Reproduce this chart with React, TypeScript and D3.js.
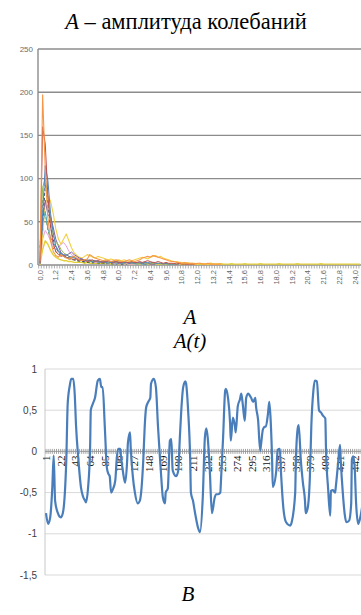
import * as d3 from 'd3';
import { useEffect, useRef } from 'react';

const W = 361;
const H = 615;

// ---- top chart: amplitude curves, category axis 0,0 … 24,4 (step 0,2)
const ampCats = d3.range(123).map((i) => +(i * 0.2).toFixed(1));
const ampXLabels = ['0,0', '1,2', '2,4', '3,6', '4,8', '6,0', '7,2', '8,4', '9,6', '10,8', '12,0', '13,2', '14,4', '15,6', '16,8', '18,0', '19,2', '20,4', '21,6', '22,8', '24,0'];
const ampYTicks = [0, 50, 100, 150, 200, 250];

const ampOlive = [
  1, 18, 28, 24, 17, 12, 9, 7, 6, 5,
  5, 4, 4, 3, 3, 3, 3, 2, 3, 2,
  2, 2, 2, 2, 2, 2, 2, 1.5, 2, 2,
  1.5, 2, 1.5, 2, 1.5, 1.5, 2, 1.5, 1.5, 2,
  1.5, 1.5, 1, 2, 1.5, 1, 1.5, 1, 2, 1.5,
  1, 1.5, 1, 1, 1.5, 1, 2, 1, 1, 1.5,
  1, 1, 1.5, 1, 1, 2, 1, 1, 1, 1.5,
  1, 1, 1, 1.5, 1, 1, 1, 1, 1.5, 1,
  1, 1, 1, 1, 1.5, 1, 1, 1, 1, 1,
  1, 1.5, 1, 1, 1, 1, 1, 1, 1.5, 1,
  1, 1, 1, 1, 1, 1, 1, 1.5, 1, 1,
  1, 1, 1, 1, 1, 1, 1, 1, 1, 1,
  1, 1, 1
];
const ampGreenDash = [20, 75, 60, 40, 30, 20, 15, 13, 11, 10, 8, 7, 6, 6, 5, 4, 4, 3, 3, 3, 2, 3, 2, 2, 2, 1, 2, 1, 1];
const ampNavyDash = [5, 40, 95, 70, 45, 30, 20, 15, 12, 10, 9, 8, 7, 6, 5, 5, 4, 4, 3, 4, 3, 3, 3, 2, 3, 2, 2, 2, 2, 1, 2, 1, 1, 1];
const ampPink = [2, 30, 40, 35, 28, 22, 18, 20, 24, 26, 22, 16, 12, 10, 8, 7, 6, 5, 5, 4, 4, 3, 3, 4, 3, 3, 2, 3, 2, 2, 2, 2, 1, 2, 1, 1, 1];
const ampYellow = [
  0, 35, 72, 80, 74, 60, 42, 30, 24, 30, 36, 28, 20, 14, 11, 9, 8, 10, 12, 11,
  9, 8, 10, 9, 8, 7, 6, 7, 6, 5, 6, 5, 6, 5, 4, 5, 6, 7, 8, 9,
  8, 7, 9, 10, 11, 9, 10, 8, 7, 6, 5, 4, 4, 3, 3, 2, 3, 2, 2, 2,
  1, 2, 1, 1, 1, 1, 1, 1, 1, 1
];
const ampAqua = [9, 48, 62, 42, 32, 26, 22, 17, 14, 11, 9, 8, 10, 9, 7, 6, 5, 6, 5, 4, 4, 5, 3, 4, 3, 3, 2, 3, 3, 2, 3, 2, 2, 3, 2, 2, 2, 1, 2, 1, 1, 1];
const ampPurple = [3, 55, 75, 58, 56, 44, 30, 22, 14, 12, 11, 13, 15, 12, 10, 8, 7, 6, 5, 6, 5, 4, 5, 4, 3, 4, 3, 3, 4, 3, 2, 3, 2, 3, 2, 2, 3, 2, 2, 2, 1, 2, 1, 1, 1];
const ampGreen = [12, 90, 100, 78, 52, 34, 26, 24, 18, 14, 12, 10, 8, 9, 7, 6, 5, 6, 5, 4, 5, 4, 4, 3, 4, 5, 3, 4, 3, 3, 4, 3, 2, 3, 3, 2, 3, 2, 2, 3, 2, 2, 3, 2, 2, 2, 1, 2, 1, 1, 1, 1];
const ampBlue = [1, 60, 115, 98, 60, 38, 22, 15, 13, 11, 12, 10, 9, 8, 7, 6, 7, 5, 6, 5, 4, 5, 4, 3, 4, 3, 4, 3, 3, 4, 3, 2, 3, 3, 2, 3, 2, 3, 3, 2, 3, 3, 2, 3, 2, 2, 2, 1, 2, 1, 1, 1, 1, 1];
const ampRed = [2, 160, 140, 80, 45, 25, 16, 12, 10, 11, 9, 8, 7, 6, 7, 5, 6, 5, 4, 5, 6, 4, 5, 4, 3, 4, 5, 4, 3, 4, 3, 3, 4, 3, 3, 4, 3, 3, 4, 3, 4, 5, 4, 3, 3, 4, 3, 2, 3, 2, 2, 2, 1, 2, 1, 1, 1, 1, 1, 1];
const ampOrange = [
  4, 197, 110, 55, 28, 16, 11, 9, 12, 10, 8, 7, 9, 10, 8, 6, 5, 6, 7, 12,
  10, 8, 7, 6, 5, 6, 5, 4, 5, 6, 5, 4, 4, 5, 6, 5, 4, 5, 6, 8,
  9, 10, 9, 11, 10, 9, 8, 7, 6, 5, 4, 4, 3, 3, 2, 3, 2, 2, 2, 1,
  2, 2, 1, 1, 2, 1, 1, 1, 1, 1
];

// ---- bottom chart: A(t), sampled time index + value
const sigT = [
  1, 4, 7, 10, 12, 14, 18, 22, 25, 30, 32, 35, 37, 40, 42, 44, 47, 51, 54, 57,
  58, 61, 64, 65, 68, 71, 75, 78, 80, 82, 85, 88, 90, 92, 94, 97, 100, 102, 104, 107,
  108, 111, 114, 117, 118, 121, 122, 125, 128, 132, 135, 140, 142, 144, 147, 150, 151, 155, 158, 161,
  164, 165, 168, 171, 172, 175, 178, 180, 182, 187, 190, 192, 194, 197, 200, 201, 204, 207, 208, 211,
  214, 218, 221, 225, 228, 230, 232, 235, 238, 242, 244, 247, 250, 251, 254, 257, 258, 261, 264, 265,
  268, 271, 272, 275, 278, 280, 282, 285, 287, 290, 292, 294, 297, 300, 301, 304, 307, 308, 311, 314,
  315, 318, 320, 322, 324, 325, 330, 332, 335, 337, 340, 344, 350, 352, 357, 358, 361, 362, 365, 368,
  371, 372, 375, 378, 380, 383, 385, 388, 391, 394, 397, 400, 401, 404, 407, 408, 411, 414, 415, 418,
  421, 422, 425, 428, 430, 434, 437, 438, 440, 442, 444, 447, 450, 454, 458, 462, 466, 470
];
const sigV = [
  -0.75, -0.88, -0.8, -0.44, -0.05, -0.6, -0.75, -0.8, -0.75, -0.1, 0.58, 0.8, 0.88, 0.88, 0.7, 0.3, -0.07, -0.44, -0.55, -0.6,
  -0.62, -0.45, 0.05, 0.5, 0.58, 0.65, 0.86, 0.88, 0.78, 0.78, 0.3, -0.2, -0.27, -0.3, -0.5, -0.45, -0.35, -0.1, 0.03, 0.03,
  -0.05, -0.25, -0.38, -0.1, 0.1, 0.23, 0.05, -0.3, -0.5, -0.63, -0.6, -0.1, 0.3, 0.53, 0.6, 0.65, 0.82, 0.88, 0.78, 0.3,
  -0.1, -0.23, -0.56, -0.63, -0.5, -0.45, 0.13, 0.15, -0.23, -0.3, -0.23, 0.13, 0.46, 0.78, 0.85, 0.83, 0.5, -0.1, -0.5, -0.6,
  -0.75, -0.92, -0.98, -0.55, 0.17, 0.28, 0.17, -0.23, -0.75, -0.56, -0.52, -0.52, -0.5, -0.35, 0.17, 0.74, 0.76, 0.65, 0.34, 0.13,
  0.41, 0.3, 0.23, 0.55, 0.63, 0.7, 0.58, 0.37, 0.65, 0.7, 0.68, 0.65, 0.6, 0.65, 0.55, 0.38, 0.01, 0.07, 0.27, 0.3,
  0.3, 0.45, 0.6, 0.37, -0.1, -0.43, -0.23, 0.02, 0.03, -0.3, -0.68, -0.86, -0.9, -0.86, -0.5, -0.1, 0.3, 0.32, -0.1, -0.38,
  -0.6, -0.75, -0.68, -0.3, 0.3, 0.74, 0.86, 0.85, 0.5, 0.47, 0.43, 0.4, 0.03, -0.45, -0.78, -0.48, -0.47, -0.5, -0.43, -0.17,
  0.08, -0.1, -0.5, -0.78, -0.86, -0.84, -0.63, -0.1, -0.06, -0.2, -0.63, -0.88, -0.8, -0.6, -0.4, -0.5, -0.7, -0.8
];
const sigXLabels = ['1', '22', '43', '64', '85', '106', '127', '148', '169', '190', '211', '232', '253', '274', '295', '316', '337', '358', '379', '400', '421', '442'];
const sigYTicks = [1, 0.5, 0, -0.5, -1, -1.5];

const SERIF = '"Liberation Serif", "Times New Roman", serif';
const SANS = '"Liberation Sans", Arial, sans-serif';

export default function App() {
  const ref = useRef<SVGSVGElement | null>(null);

  useEffect(() => {
    const svg = d3.select(ref.current);
    svg.selectAll('*').remove();
    svg.append('rect').attr('width', W).attr('height', H).attr('fill', '#fff');

    // titles
    const t1 = svg.append('text').attr('x', 186).attr('y', 29).attr('text-anchor', 'middle')
      .attr('font-family', SERIF).attr('font-size', 22.5).attr('fill', '#000');
    t1.append('tspan').attr('font-style', 'italic').text('A');
    t1.append('tspan').text(' – амплитуда колебаний');

    // ===== top chart =====
    const band = 2.625;
    const tx = d3.scaleLinear().domain([-0.5, ampCats.length - 0.5]).range([38.7, 38.7 + ampCats.length * band]);
    const ty = d3.scaleLinear().domain([0, 250]).range([265, 49]);
    const top = svg.append('g');

    top.selectAll('line.grid').data(ampYTicks.filter((d) => d > 0)).enter().append('line')
      .attr('x1', 38).attr('x2', W).attr('y1', (d) => ty(d)).attr('y2', (d) => ty(d))
      .attr('stroke', '#8c8c8c').attr('stroke-width', 1.4);
    top.append('line').attr('x1', 38).attr('x2', 38).attr('y1', ty(250)).attr('y2', ty(0))
      .attr('stroke', '#8c8c8c').attr('stroke-width', 1.4);
    top.append('line').attr('x1', 38).attr('x2', W).attr('y1', ty(0)).attr('y2', ty(0))
      .attr('stroke', '#8c8c8c').attr('stroke-width', 1.4);
    top.selectAll('line.tick').data(d3.range(ampCats.length + 1)).enter().append('line')
      .attr('x1', (i) => tx(i - 0.5)).attr('x2', (i) => tx(i - 0.5))
      .attr('y1', ty(0)).attr('y2', ty(0) + 3.5).attr('stroke', '#9a9a9a').attr('stroke-width', 0.8);

    top.selectAll('text.y').data(ampYTicks).enter().append('text')
      .attr('x', 33).attr('y', (d) => ty(d)).attr('dy', '0.35em').attr('text-anchor', 'end')
      .attr('font-family', SANS).attr('font-size', 8).attr('fill', '#6b6b6b').text((d) => d);
    top.selectAll('text.x').data(ampXLabels).enter().append('text')
      .attr('transform', (_d, i) => `translate(${tx(i * 6)},${ty(0) + 5}) rotate(-90)`)
      .attr('dy', '0.35em').attr('text-anchor', 'end')
      .attr('font-family', SANS).attr('font-size', 7.5).attr('fill', '#666').text((d) => d);

    const ampSeries = [
      { v: ampOlive, c: '#e4cf3a', w: 1.4 },
      { v: ampGreenDash, c: '#77933c', w: 1, dash: '3,2' },
      { v: ampNavyDash, c: '#2c4d75', w: 1, dash: '3,2' },
      { v: ampPink, c: '#e9a3d6', w: 1 },
      { v: ampYellow, c: '#f3cf45', w: 1.1 },
      { v: ampAqua, c: '#4bacc6', w: 1 },
      { v: ampPurple, c: '#8064a2', w: 1 },
      { v: ampGreen, c: '#9bbb59', w: 1 },
      { v: ampBlue, c: '#4f81bd', w: 1 },
      { v: ampRed, c: '#c0504d', w: 1 },
      { v: ampOrange, c: '#f79646', w: 1.1 }
    ];
    const ampLine = d3.line<number>().x((_d, i) => tx(i)).y((d) => ty(d));
    ampSeries.forEach((s) => {
      top.append('path').attr('d', ampLine(s.v)).attr('fill', 'none')
        .attr('stroke', s.c).attr('stroke-width', s.w).attr('stroke-dasharray', s.dash ?? null)
        .attr('stroke-linejoin', 'round');
    });

    // captions between charts
    svg.append('text').attr('x', 190).attr('y', 324).attr('text-anchor', 'middle')
      .attr('font-family', SERIF).attr('font-style', 'italic').attr('font-size', 21).text('A');
    svg.append('text').attr('x', 190).attr('y', 348).attr('text-anchor', 'middle')
      .attr('font-family', SERIF).attr('font-style', 'italic').attr('font-size', 21).text('A(t)');

    // ===== bottom chart =====
    const bw = 0.7;
    const bx = d3.scaleLinear().domain([0.5, 470.5]).range([45.65, 45.65 + 470 * bw]);
    const by = d3.scaleLinear().domain([-1.5, 1]).range([575, 369]);
    const bot = svg.append('g');

    bot.selectAll('line.grid').data(sigYTicks.filter((d) => d !== 0)).enter().append('line')
      .attr('x1', 45).attr('x2', W).attr('y1', (d) => by(d)).attr('y2', (d) => by(d))
      .attr('stroke', '#d9d9d9').attr('stroke-width', 1);
    bot.append('line').attr('x1', 45).attr('x2', 45).attr('y1', by(1)).attr('y2', by(-1.5))
      .attr('stroke', '#c8c8c8').attr('stroke-width', 1);
    bot.selectAll('line.tick').data(d3.range(1, 471, 3)).enter().append('line')
      .attr('x1', (t) => bx(t)).attr('x2', (t) => bx(t)).attr('y1', by(0) - 2.5).attr('y2', by(0) + 2.5)
      .attr('stroke', '#a3a3a3').attr('stroke-width', 1);
    bot.append('line').attr('x1', 45).attr('x2', W).attr('y1', by(0)).attr('y2', by(0))
      .attr('stroke', '#9a9a9a').attr('stroke-width', 1);

    bot.selectAll('text.y').data(sigYTicks).enter().append('text')
      .attr('x', 37).attr('y', (d) => by(d)).attr('dy', '0.35em').attr('text-anchor', 'end')
      .attr('font-family', SANS).attr('font-size', 10).attr('fill', '#404040')
      .text((d) => String(d).replace('.', ','));
    bot.selectAll('text.x').data(sigXLabels).enter().append('text')
      .attr('transform', (d) => `translate(${bx(+d)},${by(0) + 4}) rotate(-90)`)
      .attr('dy', '0.35em').attr('text-anchor', 'end')
      .attr('font-family', SERIF).attr('font-size', 11).attr('fill', '#111').text((d) => d);

    const sigLine = d3.line<number>().x((_d, i) => bx(sigT[i])).y((d) => by(d)).curve(d3.curveMonotoneX);
    bot.append('path').attr('d', sigLine(sigV)).attr('fill', 'none')
      .attr('stroke', '#4a7ebb').attr('stroke-width', 2.2).attr('stroke-linejoin', 'round');

    svg.append('text').attr('x', 188).attr('y', 601).attr('text-anchor', 'middle')
      .attr('font-family', SERIF).attr('font-style', 'italic').attr('font-size', 21).text('B');
  }, []);

  return (
    <div style={{ position: 'absolute', left: 0, top: 0 }}>
      <svg ref={ref} width={W} height={H} style={{ display: 'block' }} role="img" aria-label="Amplitude charts" />
    </div>
  );
}
